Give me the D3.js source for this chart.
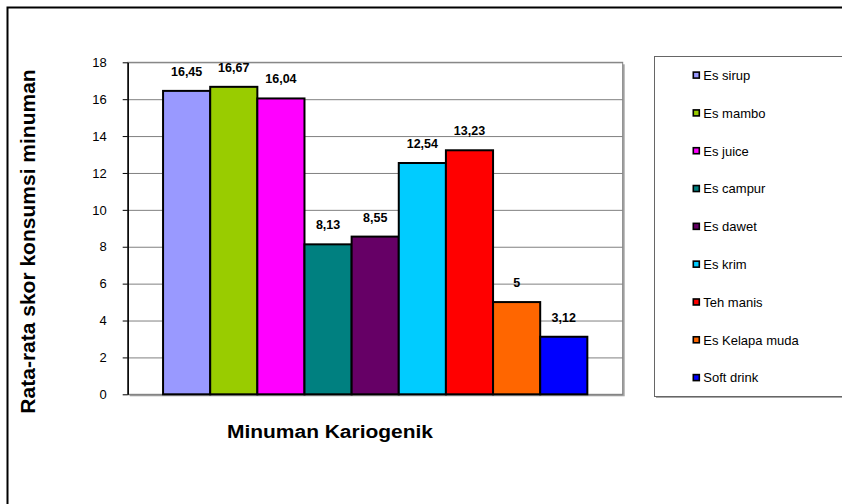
<!DOCTYPE html>
<html>
<head>
<meta charset="utf-8">
<script src="https://cdn.jsdelivr.net/npm/d3@7"></script>
<style>
  html, body { margin: 0; padding: 0; background: #fff; }
  svg { display: block; font-family: "Liberation Sans", Arial, sans-serif; }
</style>
</head>
<body>
<svg id="chart" width="842" height="504"></svg>
<script>
// Average consumption score per cariogenic drink
const categories = ["Minuman Kariogenik"];
const seriesNames = ["Es sirup", "Es mambo", "Es juice", "Es campur", "Es dawet",
                     "Es krim", "Teh manis", "Es Kelapa muda", "Soft drink"];
const seriesValues = [16.45, 16.67, 16.04, 8.13, 8.55, 12.54, 13.23, 5, 3.12];
const seriesColors = ["#9999FF", "#99CC00", "#FF00FF", "#008080", "#660066",
                      "#00CCFF", "#FF0000", "#FF6600", "#0000FF"];
const yTicks = [0, 2, 4, 6, 8, 10, 12, 14, 16, 18];
const yTitle = "Rata-rata skor konsumsi minuman";

const svg = d3.select("#chart");

// Outer chart border (runs off the right and bottom edges)
svg.append("rect")
  .attr("x", 7.5).attr("y", 7.5)
  .attr("width", 900).attr("height", 600)
  .attr("fill", "none").attr("stroke", "#000").attr("stroke-width", 2);

const plot = { left: 127.7, top: 62.3, right: 622.7, bottom: 394.3 };
const pw = plot.right - plot.left, ph = plot.bottom - plot.top;

const y = d3.scaleLinear().domain([0, 18]).range([plot.bottom, plot.top]);
const x0 = d3.scaleBand().domain(categories)
  .range([plot.left, plot.right]).paddingInner(0).paddingOuter(0.75 / 9);
const x1 = d3.scaleBand().domain(seriesNames)
  .range([0, x0.bandwidth()]).padding(0);

// Plot area shadow and frame
svg.append("rect")
  .attr("x", plot.left + 2).attr("y", plot.top + 2)
  .attr("width", pw).attr("height", ph)
  .attr("fill", "#a6a6a6");
svg.append("rect")
  .attr("x", plot.left).attr("y", plot.top)
  .attr("width", pw).attr("height", ph)
  .attr("fill", "#fff").attr("stroke", "#808080").attr("stroke-width", 1);

// Horizontal gridlines
const grid = svg.append("g")
  .attr("transform", `translate(${plot.left},0)`)
  .call(d3.axisLeft(y).tickValues(yTicks).tickSize(-pw).tickFormat(""));
grid.select(".domain").remove();
grid.selectAll("line").attr("stroke", "#808080").attr("stroke-width", 1);

// Bars
const group = svg.append("g")
  .attr("transform", `translate(${x0(categories[0])},0)`);
group.selectAll("rect")
  .data(seriesNames.map((n, i) => ({ name: n, value: seriesValues[i], color: seriesColors[i] })))
  .join("rect")
  .attr("x", d => x1(d.name))
  .attr("y", d => y(d.value))
  .attr("width", x1.bandwidth())
  .attr("height", d => y(0) - y(d.value))
  .attr("fill", d => d.color)
  .attr("stroke", "#000").attr("stroke-width", 2);

// Value labels with comma decimal separator
const idLocale = d3.formatLocale({ decimal: ",", thousands: ".", grouping: [3], currency: ["Rp", ""] });
const fmt = idLocale.format("~g");
group.selectAll("text.val")
  .data(seriesNames.map((n, i) => ({ name: n, value: seriesValues[i] })))
  .join("text")
  .attr("class", "val")
  .attr("x", d => x1(d.name) + x1.bandwidth() / 2)
  .attr("y", d => y(d.value) - 15)
  .attr("text-anchor", "middle")
  .attr("font-size", 12.5).attr("font-weight", "bold")
  .text(d => fmt(d.value));

// Y axis
const yAxis = svg.append("g")
  .attr("transform", `translate(${plot.left},0)`)
  .call(d3.axisLeft(y).tickValues(yTicks).tickSize(5).tickPadding(16).tickSizeOuter(0));
yAxis.select(".domain").attr("stroke", "#000").attr("stroke-width", 1.5);
yAxis.selectAll(".tick line").attr("stroke", "#000");
yAxis.selectAll(".tick text")
  .attr("font-size", 13).attr("fill", "#000")
  .attr("font-family", "'Liberation Sans', Arial, sans-serif");

// Axis titles
svg.append("text")
  .attr("transform", `translate(35,241.5) rotate(-90)`)
  .attr("text-anchor", "middle")
  .attr("font-size", 21).attr("font-weight", "bold")
  .text(yTitle);
svg.append("text")
  .attr("x", 330).attr("y", 437.5)
  .attr("text-anchor", "middle")
  .attr("font-size", 18).attr("font-weight", "bold")
  .attr("textLength", 206).attr("lengthAdjust", "spacingAndGlyphs")
  .text(categories[0]);

// Legend
const lg = { left: 654.5, top: 56.5, bottom: 396.5 };
svg.append("rect")
  .attr("x", lg.left + 1.5).attr("y", lg.top + 1.5)
  .attr("width", 300).attr("height", lg.bottom - lg.top)
  .attr("fill", "#a6a6a6");
svg.append("rect")
  .attr("x", lg.left).attr("y", lg.top)
  .attr("width", 300).attr("height", lg.bottom - lg.top)
  .attr("fill", "#fff").attr("stroke", "#666").attr("stroke-width", 1);

const ly = d3.scalePoint().domain(seriesNames).range([75.3, 377.8]);
const items = svg.append("g").selectAll("g")
  .data(seriesNames.map((n, i) => ({ name: n, color: seriesColors[i] })))
  .join("g")
  .attr("transform", d => `translate(692.5,${ly(d.name)})`);
items.append("rect")
  .attr("x", 0.8).attr("y", -3.2)
  .attr("width", 6).attr("height", 6)
  .attr("fill", d => d.color)
  .attr("stroke", "#000").attr("stroke-width", 1.6);
items.append("text")
  .attr("x", 10.8).attr("y", 4.6)
  .attr("font-size", 13)
  .text(d => d.name);
</script>
</body>
</html>
